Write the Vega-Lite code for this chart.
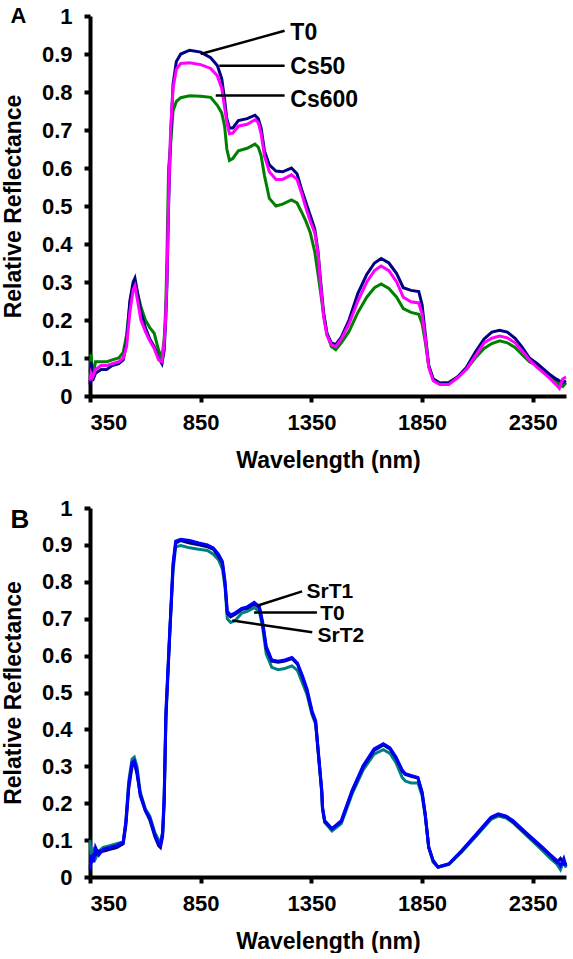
{
  "$schema": "https://vega.github.io/schema/vega-lite/v6.json",
  "padding": {"top": 5, "left": 2, "right": 0, "bottom": 0},
  "spacing": 25,
  "resolve": {"scale": {"color": "independent"}},
  "datasets": {
    "a": [
      {"s":"Cs600","w":350,"r":0.06},{"s":"Cs600","w":355,"r":0.11},{"s":"Cs600","w":362,"r":0.05},{"s":"Cs600","w":375,"r":0.09},{"s":"Cs600","w":400,"r":0.09},{"s":"Cs600","w":425,"r":0.09},{"s":"Cs600","w":450,"r":0.095},{"s":"Cs600","w":480,"r":0.1},{"s":"Cs600","w":500,"r":0.115},{"s":"Cs600","w":515,"r":0.16},{"s":"Cs600","w":530,"r":0.24},{"s":"Cs600","w":545,"r":0.29},{"s":"Cs600","w":553,"r":0.3},{"s":"Cs600","w":565,"r":0.27},{"s":"Cs600","w":580,"r":0.235},{"s":"Cs600","w":600,"r":0.2},{"s":"Cs600","w":620,"r":0.18},{"s":"Cs600","w":640,"r":0.165},{"s":"Cs600","w":660,"r":0.12},{"s":"Cs600","w":675,"r":0.1},{"s":"Cs600","w":685,"r":0.15},{"s":"Cs600","w":692,"r":0.23},{"s":"Cs600","w":698,"r":0.38},{"s":"Cs600","w":705,"r":0.6},{"s":"Cs600","w":714,"r":0.66},{"s":"Cs600","w":725,"r":0.75},{"s":"Cs600","w":740,"r":0.775},{"s":"Cs600","w":760,"r":0.785},{"s":"Cs600","w":800,"r":0.79},{"s":"Cs600","w":850,"r":0.789},{"s":"Cs600","w":895,"r":0.786},{"s":"Cs600","w":925,"r":0.765},{"s":"Cs600","w":945,"r":0.745},{"s":"Cs600","w":958,"r":0.71},{"s":"Cs600","w":968,"r":0.65},{"s":"Cs600","w":980,"r":0.62},{"s":"Cs600","w":995,"r":0.625},{"s":"Cs600","w":1020,"r":0.645},{"s":"Cs600","w":1060,"r":0.652},{"s":"Cs600","w":1095,"r":0.663},{"s":"Cs600","w":1110,"r":0.655},{"s":"Cs600","w":1123,"r":0.632},{"s":"Cs600","w":1138,"r":0.58},{"s":"Cs600","w":1160,"r":0.52},{"s":"Cs600","w":1190,"r":0.5},{"s":"Cs600","w":1220,"r":0.505},{"s":"Cs600","w":1260,"r":0.516},{"s":"Cs600","w":1285,"r":0.508},{"s":"Cs600","w":1305,"r":0.485},{"s":"Cs600","w":1325,"r":0.46},{"s":"Cs600","w":1345,"r":0.43},{"s":"Cs600","w":1365,"r":0.38},{"s":"Cs600","w":1380,"r":0.32},{"s":"Cs600","w":1392,"r":0.27},{"s":"Cs600","w":1405,"r":0.215},{"s":"Cs600","w":1420,"r":0.165},{"s":"Cs600","w":1440,"r":0.13},{"s":"Cs600","w":1460,"r":0.122},{"s":"Cs600","w":1485,"r":0.14},{"s":"Cs600","w":1520,"r":0.17},{"s":"Cs600","w":1560,"r":0.22},{"s":"Cs600","w":1600,"r":0.26},{"s":"Cs600","w":1635,"r":0.285},{"s":"Cs600","w":1665,"r":0.295},{"s":"Cs600","w":1700,"r":0.283},{"s":"Cs600","w":1735,"r":0.26},{"s":"Cs600","w":1765,"r":0.23},{"s":"Cs600","w":1800,"r":0.22},{"s":"Cs600","w":1835,"r":0.215},{"s":"Cs600","w":1850,"r":0.19},{"s":"Cs600","w":1865,"r":0.14},{"s":"Cs600","w":1880,"r":0.08},{"s":"Cs600","w":1900,"r":0.045},{"s":"Cs600","w":1930,"r":0.035},{"s":"Cs600","w":1970,"r":0.036},{"s":"Cs600","w":2010,"r":0.05},{"s":"Cs600","w":2050,"r":0.07},{"s":"Cs600","w":2090,"r":0.1},{"s":"Cs600","w":2130,"r":0.125},{"s":"Cs600","w":2165,"r":0.138},{"s":"Cs600","w":2200,"r":0.145},{"s":"Cs600","w":2235,"r":0.14},{"s":"Cs600","w":2270,"r":0.128},{"s":"Cs600","w":2300,"r":0.11},{"s":"Cs600","w":2335,"r":0.09},{"s":"Cs600","w":2370,"r":0.08},{"s":"Cs600","w":2400,"r":0.065},{"s":"Cs600","w":2430,"r":0.05},{"s":"Cs600","w":2455,"r":0.04},{"s":"Cs600","w":2470,"r":0.03},{"s":"Cs600","w":2485,"r":0.025},{"s":"Cs600","w":2500,"r":0.035},
      {"s":"T0","w":350,"r":0.03},{"s":"T0","w":355,"r":0.09},{"s":"T0","w":362,"r":0.04},{"s":"T0","w":375,"r":0.06},{"s":"T0","w":400,"r":0.07},{"s":"T0","w":425,"r":0.07},{"s":"T0","w":450,"r":0.08},{"s":"T0","w":480,"r":0.085},{"s":"T0","w":500,"r":0.095},{"s":"T0","w":515,"r":0.14},{"s":"T0","w":530,"r":0.25},{"s":"T0","w":545,"r":0.3},{"s":"T0","w":553,"r":0.31},{"s":"T0","w":565,"r":0.27},{"s":"T0","w":580,"r":0.22},{"s":"T0","w":600,"r":0.18},{"s":"T0","w":620,"r":0.15},{"s":"T0","w":640,"r":0.13},{"s":"T0","w":660,"r":0.1},{"s":"T0","w":675,"r":0.085},{"s":"T0","w":685,"r":0.12},{"s":"T0","w":692,"r":0.2},{"s":"T0","w":698,"r":0.3},{"s":"T0","w":705,"r":0.5},{"s":"T0","w":714,"r":0.68},{"s":"T0","w":725,"r":0.82},{"s":"T0","w":740,"r":0.88},{"s":"T0","w":760,"r":0.9},{"s":"T0","w":800,"r":0.91},{"s":"T0","w":850,"r":0.905},{"s":"T0","w":895,"r":0.89},{"s":"T0","w":925,"r":0.87},{"s":"T0","w":945,"r":0.835},{"s":"T0","w":958,"r":0.78},{"s":"T0","w":968,"r":0.73},{"s":"T0","w":980,"r":0.705},{"s":"T0","w":995,"r":0.705},{"s":"T0","w":1020,"r":0.725},{"s":"T0","w":1060,"r":0.73},{"s":"T0","w":1095,"r":0.739},{"s":"T0","w":1110,"r":0.73},{"s":"T0","w":1123,"r":0.705},{"s":"T0","w":1138,"r":0.645},{"s":"T0","w":1160,"r":0.608},{"s":"T0","w":1190,"r":0.592},{"s":"T0","w":1220,"r":0.59},{"s":"T0","w":1260,"r":0.6},{"s":"T0","w":1285,"r":0.585},{"s":"T0","w":1305,"r":0.545},{"s":"T0","w":1325,"r":0.51},{"s":"T0","w":1345,"r":0.475},{"s":"T0","w":1365,"r":0.44},{"s":"T0","w":1380,"r":0.38},{"s":"T0","w":1392,"r":0.3},{"s":"T0","w":1405,"r":0.22},{"s":"T0","w":1420,"r":0.165},{"s":"T0","w":1440,"r":0.14},{"s":"T0","w":1460,"r":0.135},{"s":"T0","w":1485,"r":0.155},{"s":"T0","w":1520,"r":0.2},{"s":"T0","w":1560,"r":0.27},{"s":"T0","w":1600,"r":0.32},{"s":"T0","w":1635,"r":0.35},{"s":"T0","w":1665,"r":0.362},{"s":"T0","w":1700,"r":0.35},{"s":"T0","w":1735,"r":0.322},{"s":"T0","w":1765,"r":0.285},{"s":"T0","w":1800,"r":0.278},{"s":"T0","w":1835,"r":0.275},{"s":"T0","w":1850,"r":0.24},{"s":"T0","w":1865,"r":0.16},{"s":"T0","w":1880,"r":0.08},{"s":"T0","w":1900,"r":0.045},{"s":"T0","w":1930,"r":0.033},{"s":"T0","w":1970,"r":0.033},{"s":"T0","w":2010,"r":0.05},{"s":"T0","w":2050,"r":0.075},{"s":"T0","w":2090,"r":0.115},{"s":"T0","w":2130,"r":0.15},{"s":"T0","w":2165,"r":0.168},{"s":"T0","w":2200,"r":0.173},{"s":"T0","w":2235,"r":0.168},{"s":"T0","w":2270,"r":0.152},{"s":"T0","w":2300,"r":0.13},{"s":"T0","w":2335,"r":0.1},{"s":"T0","w":2370,"r":0.085},{"s":"T0","w":2400,"r":0.07},{"s":"T0","w":2430,"r":0.055},{"s":"T0","w":2455,"r":0.045},{"s":"T0","w":2470,"r":0.04},{"s":"T0","w":2485,"r":0.035},{"s":"T0","w":2500,"r":0.04},
      {"s":"Cs50","w":350,"r":0.04},{"s":"Cs50","w":355,"r":0.06},{"s":"Cs50","w":362,"r":0.05},{"s":"Cs50","w":375,"r":0.07},{"s":"Cs50","w":400,"r":0.08},{"s":"Cs50","w":425,"r":0.08},{"s":"Cs50","w":450,"r":0.085},{"s":"Cs50","w":480,"r":0.09},{"s":"Cs50","w":500,"r":0.1},{"s":"Cs50","w":515,"r":0.13},{"s":"Cs50","w":530,"r":0.22},{"s":"Cs50","w":545,"r":0.28},{"s":"Cs50","w":553,"r":0.29},{"s":"Cs50","w":565,"r":0.25},{"s":"Cs50","w":580,"r":0.2},{"s":"Cs50","w":600,"r":0.17},{"s":"Cs50","w":620,"r":0.145},{"s":"Cs50","w":640,"r":0.125},{"s":"Cs50","w":660,"r":0.095},{"s":"Cs50","w":675,"r":0.09},{"s":"Cs50","w":685,"r":0.14},{"s":"Cs50","w":692,"r":0.21},{"s":"Cs50","w":698,"r":0.32},{"s":"Cs50","w":705,"r":0.52},{"s":"Cs50","w":714,"r":0.7},{"s":"Cs50","w":725,"r":0.81},{"s":"Cs50","w":740,"r":0.86},{"s":"Cs50","w":760,"r":0.875},{"s":"Cs50","w":800,"r":0.877},{"s":"Cs50","w":850,"r":0.872},{"s":"Cs50","w":895,"r":0.862},{"s":"Cs50","w":925,"r":0.843},{"s":"Cs50","w":945,"r":0.81},{"s":"Cs50","w":958,"r":0.76},{"s":"Cs50","w":968,"r":0.72},{"s":"Cs50","w":980,"r":0.69},{"s":"Cs50","w":995,"r":0.692},{"s":"Cs50","w":1020,"r":0.71},{"s":"Cs50","w":1060,"r":0.715},{"s":"Cs50","w":1095,"r":0.727},{"s":"Cs50","w":1110,"r":0.72},{"s":"Cs50","w":1123,"r":0.69},{"s":"Cs50","w":1138,"r":0.632},{"s":"Cs50","w":1160,"r":0.59},{"s":"Cs50","w":1190,"r":0.57},{"s":"Cs50","w":1220,"r":0.57},{"s":"Cs50","w":1260,"r":0.582},{"s":"Cs50","w":1285,"r":0.57},{"s":"Cs50","w":1305,"r":0.535},{"s":"Cs50","w":1325,"r":0.495},{"s":"Cs50","w":1345,"r":0.46},{"s":"Cs50","w":1365,"r":0.43},{"s":"Cs50","w":1380,"r":0.375},{"s":"Cs50","w":1392,"r":0.29},{"s":"Cs50","w":1405,"r":0.21},{"s":"Cs50","w":1420,"r":0.16},{"s":"Cs50","w":1440,"r":0.135},{"s":"Cs50","w":1460,"r":0.13},{"s":"Cs50","w":1485,"r":0.15},{"s":"Cs50","w":1520,"r":0.19},{"s":"Cs50","w":1560,"r":0.25},{"s":"Cs50","w":1600,"r":0.3},{"s":"Cs50","w":1635,"r":0.33},{"s":"Cs50","w":1665,"r":0.342},{"s":"Cs50","w":1700,"r":0.33},{"s":"Cs50","w":1735,"r":0.3},{"s":"Cs50","w":1765,"r":0.26},{"s":"Cs50","w":1800,"r":0.248},{"s":"Cs50","w":1835,"r":0.245},{"s":"Cs50","w":1850,"r":0.215},{"s":"Cs50","w":1865,"r":0.15},{"s":"Cs50","w":1880,"r":0.075},{"s":"Cs50","w":1900,"r":0.04},{"s":"Cs50","w":1930,"r":0.03},{"s":"Cs50","w":1970,"r":0.03},{"s":"Cs50","w":2010,"r":0.048},{"s":"Cs50","w":2050,"r":0.07},{"s":"Cs50","w":2090,"r":0.105},{"s":"Cs50","w":2130,"r":0.14},{"s":"Cs50","w":2165,"r":0.152},{"s":"Cs50","w":2200,"r":0.158},{"s":"Cs50","w":2235,"r":0.153},{"s":"Cs50","w":2270,"r":0.14},{"s":"Cs50","w":2300,"r":0.12},{"s":"Cs50","w":2335,"r":0.095},{"s":"Cs50","w":2370,"r":0.075},{"s":"Cs50","w":2400,"r":0.06},{"s":"Cs50","w":2430,"r":0.045},{"s":"Cs50","w":2455,"r":0.03},{"s":"Cs50","w":2470,"r":0.02},{"s":"Cs50","w":2485,"r":0.045},{"s":"Cs50","w":2500,"r":0.05}
    ],
    "aLead": [
      {"w":850,"r":0.9,"w2":1229,"r2":0.961},
      {"w":934,"r":0.869,"w2":1229,"r2":0.869},
      {"w":918,"r":0.791,"w2":1229,"r2":0.791}
    ],
    "aLab": [
      {"w":1255,"r":0.955,"t":"T0"},
      {"w":1255,"r":0.866,"t":"Cs50"},
      {"w":1255,"r":0.78,"t":"Cs600"}
    ],
    "b": [
      {"s":"SrT2","w":350,"r":0.1},{"s":"SrT2","w":356,"r":0.05},{"s":"SrT2","w":365,"r":0.07},{"s":"SrT2","w":375,"r":0.05},{"s":"SrT2","w":390,"r":0.07},{"s":"SrT2","w":410,"r":0.08},{"s":"SrT2","w":440,"r":0.085},{"s":"SrT2","w":470,"r":0.09},{"s":"SrT2","w":500,"r":0.095},{"s":"SrT2","w":512,"r":0.15},{"s":"SrT2","w":525,"r":0.26},{"s":"SrT2","w":540,"r":0.32},{"s":"SrT2","w":550,"r":0.325},{"s":"SrT2","w":562,"r":0.3},{"s":"SrT2","w":577,"r":0.23},{"s":"SrT2","w":600,"r":0.185},{"s":"SrT2","w":620,"r":0.165},{"s":"SrT2","w":643,"r":0.12},{"s":"SrT2","w":660,"r":0.1},{"s":"SrT2","w":668,"r":0.095},{"s":"SrT2","w":678,"r":0.12},{"s":"SrT2","w":685,"r":0.21},{"s":"SrT2","w":693,"r":0.44},{"s":"SrT2","w":709,"r":0.65},{"s":"SrT2","w":725,"r":0.83},{"s":"SrT2","w":737,"r":0.895},{"s":"SrT2","w":760,"r":0.898},{"s":"SrT2","w":800,"r":0.892},{"s":"SrT2","w":841,"r":0.888},{"s":"SrT2","w":880,"r":0.885},{"s":"SrT2","w":907,"r":0.875},{"s":"SrT2","w":930,"r":0.86},{"s":"SrT2","w":948,"r":0.835},{"s":"SrT2","w":960,"r":0.785},{"s":"SrT2","w":970,"r":0.7},{"s":"SrT2","w":985,"r":0.69},{"s":"SrT2","w":1006,"r":0.695},{"s":"SrT2","w":1035,"r":0.715},{"s":"SrT2","w":1060,"r":0.72},{"s":"SrT2","w":1092,"r":0.73},{"s":"SrT2","w":1115,"r":0.72},{"s":"SrT2","w":1130,"r":0.675},{"s":"SrT2","w":1146,"r":0.605},{"s":"SrT2","w":1171,"r":0.568},{"s":"SrT2","w":1200,"r":0.562},{"s":"SrT2","w":1230,"r":0.565},{"s":"SrT2","w":1262,"r":0.572},{"s":"SrT2","w":1287,"r":0.56},{"s":"SrT2","w":1310,"r":0.525},{"s":"SrT2","w":1330,"r":0.495},{"s":"SrT2","w":1353,"r":0.44},{"s":"SrT2","w":1369,"r":0.415},{"s":"SrT2","w":1386,"r":0.3},{"s":"SrT2","w":1397,"r":0.225},{"s":"SrT2","w":1400,"r":0.185},{"s":"SrT2","w":1410,"r":0.148},{"s":"SrT2","w":1443,"r":0.125},{"s":"SrT2","w":1485,"r":0.145},{"s":"SrT2","w":1534,"r":0.225},{"s":"SrT2","w":1584,"r":0.29},{"s":"SrT2","w":1633,"r":0.333},{"s":"SrT2","w":1675,"r":0.345},{"s":"SrT2","w":1705,"r":0.335},{"s":"SrT2","w":1732,"r":0.31},{"s":"SrT2","w":1760,"r":0.27},{"s":"SrT2","w":1774,"r":0.26},{"s":"SrT2","w":1800,"r":0.255},{"s":"SrT2","w":1831,"r":0.255},{"s":"SrT2","w":1850,"r":0.22},{"s":"SrT2","w":1864,"r":0.165},{"s":"SrT2","w":1880,"r":0.08},{"s":"SrT2","w":1900,"r":0.04},{"s":"SrT2","w":1922,"r":0.026},{"s":"SrT2","w":1971,"r":0.034},{"s":"SrT2","w":2029,"r":0.068},{"s":"SrT2","w":2096,"r":0.112},{"s":"SrT2","w":2161,"r":0.156},{"s":"SrT2","w":2194,"r":0.165},{"s":"SrT2","w":2230,"r":0.16},{"s":"SrT2","w":2260,"r":0.147},{"s":"SrT2","w":2326,"r":0.11},{"s":"SrT2","w":2393,"r":0.072},{"s":"SrT2","w":2430,"r":0.05},{"s":"SrT2","w":2459,"r":0.035},{"s":"SrT2","w":2475,"r":0.02},{"s":"SrT2","w":2490,"r":0.045},{"s":"SrT2","w":2500,"r":0.025},
      {"s":"T0","w":350,"r":0.03},{"s":"T0","w":356,"r":0.04},{"s":"T0","w":365,"r":0.06},{"s":"T0","w":375,"r":0.06},{"s":"T0","w":390,"r":0.07},{"s":"T0","w":410,"r":0.07},{"s":"T0","w":440,"r":0.075},{"s":"T0","w":470,"r":0.08},{"s":"T0","w":500,"r":0.09},{"s":"T0","w":512,"r":0.14},{"s":"T0","w":525,"r":0.24},{"s":"T0","w":540,"r":0.3},{"s":"T0","w":550,"r":0.31},{"s":"T0","w":562,"r":0.28},{"s":"T0","w":577,"r":0.225},{"s":"T0","w":600,"r":0.18},{"s":"T0","w":620,"r":0.155},{"s":"T0","w":643,"r":0.11},{"s":"T0","w":660,"r":0.085},{"s":"T0","w":668,"r":0.08},{"s":"T0","w":678,"r":0.11},{"s":"T0","w":685,"r":0.2},{"s":"T0","w":693,"r":0.43},{"s":"T0","w":709,"r":0.64},{"s":"T0","w":725,"r":0.84},{"s":"T0","w":737,"r":0.905},{"s":"T0","w":760,"r":0.912},{"s":"T0","w":800,"r":0.905},{"s":"T0","w":841,"r":0.9},{"s":"T0","w":880,"r":0.895},{"s":"T0","w":907,"r":0.888},{"s":"T0","w":930,"r":0.87},{"s":"T0","w":948,"r":0.85},{"s":"T0","w":960,"r":0.795},{"s":"T0","w":970,"r":0.715},{"s":"T0","w":985,"r":0.705},{"s":"T0","w":1006,"r":0.712},{"s":"T0","w":1035,"r":0.725},{"s":"T0","w":1060,"r":0.728},{"s":"T0","w":1092,"r":0.74},{"s":"T0","w":1115,"r":0.73},{"s":"T0","w":1130,"r":0.685},{"s":"T0","w":1146,"r":0.62},{"s":"T0","w":1171,"r":0.585},{"s":"T0","w":1200,"r":0.582},{"s":"T0","w":1230,"r":0.585},{"s":"T0","w":1262,"r":0.592},{"s":"T0","w":1287,"r":0.577},{"s":"T0","w":1310,"r":0.54},{"s":"T0","w":1330,"r":0.505},{"s":"T0","w":1353,"r":0.445},{"s":"T0","w":1369,"r":0.42},{"s":"T0","w":1386,"r":0.305},{"s":"T0","w":1397,"r":0.23},{"s":"T0","w":1400,"r":0.188},{"s":"T0","w":1410,"r":0.15},{"s":"T0","w":1443,"r":0.13},{"s":"T0","w":1485,"r":0.15},{"s":"T0","w":1534,"r":0.232},{"s":"T0","w":1584,"r":0.298},{"s":"T0","w":1633,"r":0.343},{"s":"T0","w":1675,"r":0.358},{"s":"T0","w":1705,"r":0.347},{"s":"T0","w":1732,"r":0.322},{"s":"T0","w":1760,"r":0.287},{"s":"T0","w":1774,"r":0.278},{"s":"T0","w":1800,"r":0.273},{"s":"T0","w":1831,"r":0.268},{"s":"T0","w":1850,"r":0.228},{"s":"T0","w":1864,"r":0.17},{"s":"T0","w":1880,"r":0.08},{"s":"T0","w":1900,"r":0.043},{"s":"T0","w":1922,"r":0.027},{"s":"T0","w":1971,"r":0.035},{"s":"T0","w":2029,"r":0.07},{"s":"T0","w":2096,"r":0.115},{"s":"T0","w":2161,"r":0.16},{"s":"T0","w":2194,"r":0.169},{"s":"T0","w":2230,"r":0.163},{"s":"T0","w":2260,"r":0.15},{"s":"T0","w":2326,"r":0.114},{"s":"T0","w":2393,"r":0.078},{"s":"T0","w":2430,"r":0.058},{"s":"T0","w":2459,"r":0.04},{"s":"T0","w":2475,"r":0.05},{"s":"T0","w":2490,"r":0.035},{"s":"T0","w":2500,"r":0.04},
      {"s":"SrT1","w":350,"r":0.02},{"s":"SrT1","w":356,"r":0.06},{"s":"SrT1","w":365,"r":0.04},{"s":"SrT1","w":375,"r":0.08},{"s":"SrT1","w":390,"r":0.06},{"s":"SrT1","w":410,"r":0.075},{"s":"SrT1","w":440,"r":0.08},{"s":"SrT1","w":470,"r":0.085},{"s":"SrT1","w":500,"r":0.095},{"s":"SrT1","w":512,"r":0.15},{"s":"SrT1","w":525,"r":0.25},{"s":"SrT1","w":540,"r":0.31},{"s":"SrT1","w":550,"r":0.315},{"s":"SrT1","w":562,"r":0.29},{"s":"SrT1","w":577,"r":0.22},{"s":"SrT1","w":600,"r":0.18},{"s":"SrT1","w":620,"r":0.16},{"s":"SrT1","w":643,"r":0.115},{"s":"SrT1","w":660,"r":0.09},{"s":"SrT1","w":668,"r":0.085},{"s":"SrT1","w":678,"r":0.12},{"s":"SrT1","w":685,"r":0.22},{"s":"SrT1","w":693,"r":0.45},{"s":"SrT1","w":709,"r":0.65},{"s":"SrT1","w":725,"r":0.85},{"s":"SrT1","w":737,"r":0.91},{"s":"SrT1","w":760,"r":0.915},{"s":"SrT1","w":800,"r":0.912},{"s":"SrT1","w":841,"r":0.905},{"s":"SrT1","w":880,"r":0.9},{"s":"SrT1","w":907,"r":0.892},{"s":"SrT1","w":930,"r":0.875},{"s":"SrT1","w":948,"r":0.855},{"s":"SrT1","w":960,"r":0.8},{"s":"SrT1","w":970,"r":0.72},{"s":"SrT1","w":985,"r":0.71},{"s":"SrT1","w":1006,"r":0.716},{"s":"SrT1","w":1035,"r":0.728},{"s":"SrT1","w":1060,"r":0.732},{"s":"SrT1","w":1092,"r":0.744},{"s":"SrT1","w":1115,"r":0.732},{"s":"SrT1","w":1130,"r":0.69},{"s":"SrT1","w":1146,"r":0.625},{"s":"SrT1","w":1171,"r":0.588},{"s":"SrT1","w":1200,"r":0.585},{"s":"SrT1","w":1230,"r":0.588},{"s":"SrT1","w":1262,"r":0.595},{"s":"SrT1","w":1287,"r":0.58},{"s":"SrT1","w":1310,"r":0.545},{"s":"SrT1","w":1330,"r":0.51},{"s":"SrT1","w":1353,"r":0.45},{"s":"SrT1","w":1369,"r":0.424},{"s":"SrT1","w":1386,"r":0.307},{"s":"SrT1","w":1397,"r":0.235},{"s":"SrT1","w":1400,"r":0.19},{"s":"SrT1","w":1410,"r":0.153},{"s":"SrT1","w":1443,"r":0.131},{"s":"SrT1","w":1485,"r":0.153},{"s":"SrT1","w":1534,"r":0.235},{"s":"SrT1","w":1584,"r":0.302},{"s":"SrT1","w":1633,"r":0.347},{"s":"SrT1","w":1675,"r":0.361},{"s":"SrT1","w":1705,"r":0.35},{"s":"SrT1","w":1732,"r":0.325},{"s":"SrT1","w":1760,"r":0.29},{"s":"SrT1","w":1774,"r":0.28},{"s":"SrT1","w":1800,"r":0.275},{"s":"SrT1","w":1831,"r":0.27},{"s":"SrT1","w":1850,"r":0.23},{"s":"SrT1","w":1864,"r":0.171},{"s":"SrT1","w":1880,"r":0.081},{"s":"SrT1","w":1900,"r":0.045},{"s":"SrT1","w":1922,"r":0.027},{"s":"SrT1","w":1971,"r":0.036},{"s":"SrT1","w":2029,"r":0.072},{"s":"SrT1","w":2096,"r":0.117},{"s":"SrT1","w":2161,"r":0.162},{"s":"SrT1","w":2194,"r":0.171},{"s":"SrT1","w":2230,"r":0.165},{"s":"SrT1","w":2260,"r":0.153},{"s":"SrT1","w":2326,"r":0.117},{"s":"SrT1","w":2393,"r":0.081},{"s":"SrT1","w":2430,"r":0.06},{"s":"SrT1","w":2459,"r":0.045},{"s":"SrT1","w":2475,"r":0.03},{"s":"SrT1","w":2490,"r":0.05},{"s":"SrT1","w":2500,"r":0.03}
    ],
    "bLead": [
      {"w":1105,"r":0.735,"w2":1308,"r2":0.774},
      {"w":1091,"r":0.717,"w2":1375,"r2":0.717},
      {"w":993,"r":0.695,"w2":1354,"r2":0.663}
    ],
    "bLab": [
      {"w":1328,"r":0.773,"t":"SrT1"},
      {"w":1390,"r":0.712,"t":"T0"},
      {"w":1378,"r":0.652,"t":"SrT2"}
    ]
  },
  "vconcat": [
    {
      "width": 476,
      "height": 380,
      "title": {"text": "A", "anchor": "start", "frame": "bounds", "fontSize": 22, "dx": 8, "dy": 27},
      "layer": [
        {
          "data": {"name": "a"},
          "mark": {"type": "line", "strokeWidth": 3},
          "encoding": {
            "x": {"field": "w", "type": "quantitative", "scale": {"domain": [350, 2500], "nice": false}, "axis": {"values": [350, 850, 1350, 1850, 2350], "tickCount": 20, "format": "d", "labelOverlap": false, "title": "Wavelength (nm)"}},
            "y": {"field": "r", "type": "quantitative", "scale": {"domain": [0, 1], "nice": false}, "axis": {"values": [0, 0.1, 0.2, 0.3, 0.4, 0.5, 0.6, 0.7, 0.8, 0.9, 1], "tickCount": 20, "format": "~g", "labelOverlap": false, "title": "Relative Reflectance"}},
            "color": {"field": "s", "type": "nominal", "legend": null, "scale": {"domain": ["T0", "Cs50", "Cs600"], "range": ["#000080", "#FF00FF", "#008000"]}}
          }
        },
        {
          "data": {"name": "aLead"},
          "mark": {"type": "rule", "color": "black", "strokeWidth": 2.5},
          "encoding": {
            "x": {"field": "w", "type": "quantitative"},
            "y": {"field": "r", "type": "quantitative"},
            "x2": {"field": "w2"},
            "y2": {"field": "r2"}
          }
        },
        {
          "data": {"name": "aLab"},
          "mark": {"type": "text", "align": "left", "baseline": "middle", "fontSize": 23, "fontWeight": "bold", "color": "black"},
          "encoding": {
            "x": {"field": "w", "type": "quantitative"},
            "y": {"field": "r", "type": "quantitative"},
            "text": {"field": "t"}
          }
        }
      ]
    },
    {
      "width": 476,
      "height": 369,
      "title": {"text": "B", "anchor": "start", "frame": "bounds", "fontSize": 26, "dx": 8, "dy": 40},
      "layer": [
        {
          "data": {"name": "b"},
          "mark": {"type": "line", "strokeWidth": 3},
          "encoding": {
            "x": {"field": "w", "type": "quantitative", "scale": {"domain": [350, 2500], "nice": false}, "axis": {"values": [350, 850, 1350, 1850, 2350], "tickCount": 20, "format": "d", "labelOverlap": false, "title": "Wavelength (nm)"}},
            "y": {"field": "r", "type": "quantitative", "scale": {"domain": [0, 1], "nice": false}, "axis": {"values": [0, 0.1, 0.2, 0.3, 0.4, 0.5, 0.6, 0.7, 0.8, 0.9, 1], "tickCount": 20, "format": "~g", "labelOverlap": false, "title": "Relative Reflectance"}},
            "color": {"field": "s", "type": "nominal", "legend": null, "scale": {"domain": ["SrT1", "T0", "SrT2"], "range": ["#0000FF", "#000080", "#008080"]}}
          }
        },
        {
          "data": {"name": "bLead"},
          "mark": {"type": "rule", "color": "black", "strokeWidth": 2.5},
          "encoding": {
            "x": {"field": "w", "type": "quantitative"},
            "y": {"field": "r", "type": "quantitative"},
            "x2": {"field": "w2"},
            "y2": {"field": "r2"}
          }
        },
        {
          "data": {"name": "bLab"},
          "mark": {"type": "text", "align": "left", "baseline": "middle", "fontSize": 21, "fontWeight": "bold", "color": "black"},
          "encoding": {
            "x": {"field": "w", "type": "quantitative"},
            "y": {"field": "r", "type": "quantitative"},
            "text": {"field": "t"}
          }
        }
      ]
    }
  ],
  "config": {
    "font": "Liberation Sans",
    "view": {"stroke": null},
    "title": {"fontWeight": "bold", "color": "black", "font": "Liberation Sans"},
    "axis": {
      "grid": false,
      "labelOverlap": false,
      "domainColor": "black",
      "domainWidth": 4,
      "tickColor": "black",
      "tickWidth": 4,
      "tickSize": 6,
      "labelFont": "Liberation Sans",
      "labelFontSize": 22,
      "labelFontWeight": "bold",
      "labelColor": "black",
      "titleFont": "Liberation Sans",
      "titleFontSize": 23,
      "titleFontWeight": "bold",
      "titleColor": "black"
    },
    "axisX": {"labelPadding": 10, "titlePadding": 16},
    "axisY": {"labelPadding": 12, "titlePadding": 16}
  }
}
